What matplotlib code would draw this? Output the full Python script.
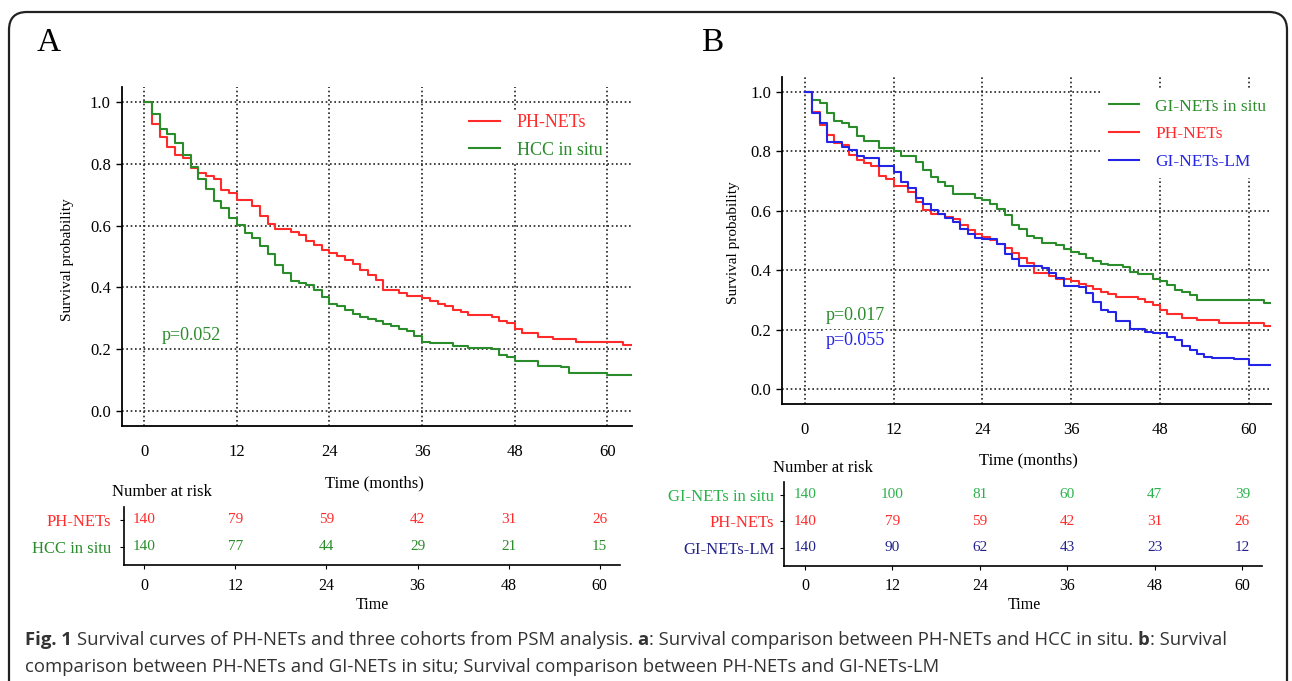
import matplotlib
matplotlib.use("Agg")
import matplotlib.pyplot as plt
from matplotlib.patches import FancyBboxPatch
from matplotlib.ticker import FormatStrFormatter

plt.rcParams["font.family"] = "Liberation Serif"

# --- Kaplan-Meier step data (month of drop, survival after drop) ---
ph_t = [0, 1, 2, 3, 4, 5, 6, 7, 8, 9, 10, 11, 12, 14, 15, 16, 17, 19, 20, 21, 22, 23,
        24, 25, 26, 27, 28, 29, 30, 31, 33, 34, 36, 37, 38, 39, 40, 41, 42, 45, 46, 47,
        48, 49, 51, 53, 56, 62]
ph_s = [1.0, 0.931, 0.889, 0.855, 0.828, 0.820, 0.787, 0.770, 0.761, 0.750, 0.716, 0.707,
        0.682, 0.664, 0.630, 0.604, 0.588, 0.579, 0.571, 0.552, 0.536, 0.521, 0.511, 0.502,
        0.489, 0.475, 0.457, 0.440, 0.424, 0.390, 0.381, 0.372, 0.365, 0.355, 0.347, 0.338,
        0.328, 0.320, 0.311, 0.303, 0.292, 0.283, 0.266, 0.251, 0.240, 0.231, 0.224, 0.213]

hcc_t = [0, 1, 2, 3, 4, 5, 6, 7, 8, 9, 10, 11, 12, 13, 14, 15, 16, 17, 18, 19, 20, 21,
         22, 23, 24, 25, 26, 27, 28, 29, 30, 31, 32, 33, 34, 35, 36, 37, 40, 42, 45, 46,
         47, 48, 51, 54, 55, 60]
hcc_s = [1.0, 0.962, 0.914, 0.898, 0.867, 0.829, 0.789, 0.751, 0.719, 0.681, 0.656, 0.626,
         0.602, 0.577, 0.560, 0.534, 0.507, 0.471, 0.446, 0.422, 0.415, 0.407, 0.392, 0.368,
         0.346, 0.338, 0.327, 0.314, 0.305, 0.297, 0.290, 0.282, 0.274, 0.265, 0.257, 0.243,
         0.224, 0.218, 0.211, 0.202, 0.199, 0.181, 0.173, 0.162, 0.146, 0.140, 0.123, 0.116]

gis_t = [0, 1, 2, 3, 4, 5, 6, 7, 8, 10, 12, 13, 15, 16, 17, 18, 19, 20, 23, 24, 25, 26,
         27, 28, 29, 30, 31, 32, 34, 35, 36, 37, 38, 39, 40, 41, 43, 44, 45, 47, 48, 49,
         50, 51, 52, 53, 62]
gis_s = [1.0, 0.971, 0.962, 0.928, 0.902, 0.894, 0.883, 0.850, 0.833, 0.810, 0.801, 0.785,
         0.763, 0.737, 0.715, 0.698, 0.683, 0.655, 0.644, 0.635, 0.622, 0.605, 0.586, 0.552,
         0.538, 0.515, 0.508, 0.493, 0.486, 0.470, 0.462, 0.453, 0.440, 0.432, 0.421, 0.416,
         0.410, 0.393, 0.387, 0.370, 0.362, 0.350, 0.335, 0.328, 0.317, 0.300, 0.290]

lm_t = [0, 1, 2, 3, 5, 6, 7, 8, 10, 12, 13, 14, 15, 16, 17, 18, 19, 20, 21, 22, 23, 24,
        26, 27, 28, 29, 32, 33, 34, 35, 37, 38, 39, 40, 41, 42, 44, 46, 47, 49, 50, 51,
        52, 53, 54, 55, 58, 60]
lm_s = [1.0, 0.928, 0.894, 0.830, 0.816, 0.805, 0.783, 0.776, 0.749, 0.730, 0.698, 0.676,
        0.642, 0.622, 0.603, 0.588, 0.577, 0.563, 0.538, 0.522, 0.508, 0.506, 0.489, 0.455,
        0.437, 0.414, 0.406, 0.389, 0.373, 0.347, 0.342, 0.324, 0.293, 0.267, 0.260, 0.228,
        0.201, 0.193, 0.188, 0.175, 0.166, 0.146, 0.130, 0.119, 0.108, 0.104, 0.100, 0.082]

# --- number at risk ---
risk_times = [0, 12, 24, 36, 48, 60]
risk_ph = [140, 79, 59, 42, 31, 26]
risk_hcc = [140, 77, 44, 29, 21, 15]
risk_gis = [140, 100, 81, 60, 47, 39]
risk_lm = [140, 90, 62, 43, 23, 12]

RED = "#ff2b2b"
GREEN = "#2a8c2a"
BLUE = "#2424e6"
GREEN_TAB = "#2bb24c"
NAVY_TAB = "#23238c"
GRID_LS = (0, (1, 1.6))

W, H = 1292, 681
fig = plt.figure(figsize=(W / 100, H / 100), dpi=100)


def km_panel(rect, xlim, curves, leg_anchor, leg_size, leg_space, leg_pad, ylab_xy, xlab_xy):
    ax = fig.add_axes(rect)
    for t, s, color, label in curves:
        ax.step(list(t) + [xlim[1]], list(s) + [s[-1]], where="post",
                color=color, lw=1.5, label=label)
    ax.set_xlim(*xlim)
    ax.set_ylim(-0.05, 1.05)
    ax.set_xticks(risk_times)
    ax.set_yticks([0.0, 0.2, 0.4, 0.6, 0.8, 1.0])
    ax.yaxis.set_major_formatter(FormatStrFormatter("%.1f"))
    ax.grid(True, color="#222222", linestyle=GRID_LS, linewidth=1.2)
    ax.set_axisbelow(True)
    for side in ("top", "right"):
        ax.spines[side].set_visible(False)
    for side in ("left", "bottom"):
        ax.spines[side].set_linewidth(1.3)
    ax.tick_params(axis="x", length=0, pad=13, labelsize=12)
    ax.tick_params(axis="y", length=4, width=1, pad=4, labelsize=12)
    ax.set_ylabel("Survival probability", fontsize=11, va="center")
    ax.yaxis.set_label_coords(*ylab_xy)
    ax.set_xlabel("Time (months)", fontsize=12, va="center")
    ax.xaxis.set_label_coords(*xlab_xy)
    leg = ax.legend(loc="upper left", bbox_to_anchor=leg_anchor, frameon=True,
                    facecolor="white", edgecolor="none", framealpha=1,
                    borderpad=leg_pad, borderaxespad=0, handlelength=1.75,
                    handletextpad=0.9, labelspacing=leg_space, fontsize=leg_size,
                    labelcolor="linecolor")
    leg.set_zorder(5)
    return ax


def risk_table(rect, xlim, ylim, rows, xlab_xy, ypad):
    ax = fig.add_axes(rect)
    ax.set_xlim(*xlim)
    ax.set_ylim(*ylim)
    for side in ("top", "right"):
        ax.spines[side].set_visible(False)
    for side in ("left", "bottom"):
        ax.spines[side].set_linewidth(1.2)
    ax.set_xticks(risk_times)
    ax.set_yticks([r[0] for r in rows])
    ax.set_yticklabels([r[1] for r in rows])
    for lab, r in zip(ax.get_yticklabels(), rows):
        lab.set_color(r[3])
    ax.tick_params(axis="x", length=3, pad=6, labelsize=11.5)
    ax.tick_params(axis="y", length=3, pad=ypad, labelsize=12)
    for y, _, counts, color in rows:
        for t, n in zip(risk_times, counts):
            ax.text(t, y, str(n), ha="center", va="center", color=color, fontsize=11)
    ax.set_xlabel("Time", fontsize=11.5, va="center")
    ax.xaxis.set_label_coords(*xlab_xy)
    return ax


# panel A
axA = km_panel([0.0944, 0.3744, 0.3947, 0.4978], (-2.9, 63.2),
               [(ph_t, ph_s, RED, "PH-NETs"), (hcc_t, hcc_s, GREEN, "HCC in situ")],
               (0.673, 0.931), 13, 0.58, 0.2, (-0.106, 0.49), (0.496, -0.168))
axA.text(2.3, 0.245, "p=0.052", color=GREEN, fontsize=13, va="center", ha="left")

# panel B
axB = km_panel([0.6053, 0.4068, 0.3785, 0.4802], (-3.07, 63.0),
               [(gis_t, gis_s, GREEN, "GI-NETs in situ"), (ph_t, ph_s, RED, "PH-NETs"),
                (lm_t, lm_s, BLUE, "GI-NETs-LM")],
               (0.651, 0.961), 12.5, 0.66, 0.5, (-0.100, 0.492), (0.503, -0.174))
bb = dict(facecolor="white", edgecolor="none", pad=1)
axB.text(2.8, 0.249, "p=0.017", color=GREEN, fontsize=13, va="center", ha="left", bbox=bb)
axB.text(2.8, 0.165, "p=0.055", color=BLUE, fontsize=13, va="center", ha="left", bbox=bb)

# number at risk tables
risk_table([0.0957, 0.1703, 0.3842, 0.0852], (-2.74, 62.7), (0.33, 2.48),
           [(2, "PH-NETs", risk_ph, RED), (1, "HCC in situ", risk_hcc, GREEN)],
           (0.50, -0.69), 6)
risk_table([0.6068, 0.1689, 0.3700, 0.1238], (-2.88, 62.7), (0.32, 3.5),
           [(3, "GI-NETs in situ", risk_gis, GREEN_TAB), (2, "PH-NETs", risk_ph, RED),
            (1, "GI-NETs-LM", risk_lm, NAVY_TAB)],
           (0.502, -0.463), 4)

fig.text(112 / W, 1 - 492 / H, "Number at risk", fontsize=12, va="center")
fig.text(773 / W, 1 - 468 / H, "Number at risk", fontsize=12, va="center")

fig.text(37 / W, 1 - 43 / H, "A", fontsize=24, va="center")
fig.text(701 / W, 1 - 43 / H, "B", fontsize=24, va="center")

# caption, pieces laid out one after another so bold parts sit inline
CAP = dict(fontsize=13.3, family="Open Sans", color="#333333", va="baseline")
renderer = fig.canvas.get_renderer()


def text_width(s, weight="normal"):
    t = fig.text(0, 0, s, weight=weight, **CAP)
    w = t.get_window_extent(renderer).width
    t.remove()
    return w


space_w = text_width("a a") - text_width("aa")


def rich_line(x_px, y_px, chunks):
    x = x_px
    for s, bold, gap in chunks:
        if gap:
            x += space_w
        t = fig.text(x / W, 1 - y_px / H, s, weight="bold" if bold else "normal", **CAP)
        x = t.get_window_extent(renderer).x1


rich_line(25, 645, [
    ("Fig. 1", True, False),
    ("Survival curves of PH-NETs and three cohorts from PSM analysis.", False, True),
    ("a", True, True),
    (": Survival comparison between PH-NETs and HCC in situ.", False, False),
    ("b", True, True),
    (": Survival", False, False),
])
rich_line(25, 672, [
    ("comparison between PH-NETs and GI-NETs in situ; Survival comparison between "
     "PH-NETs and GI-NETs-LM", False, False),
])

# rounded frame
frame = FancyBboxPatch((0.09, -0.3), 12.78, 6.69 + 0.3,
                       boxstyle="round,pad=0,rounding_size=0.18",
                       transform=fig.dpi_scale_trans, facecolor="none",
                       edgecolor="#222222", linewidth=1.6, zorder=10)
fig.patches.append(frame)

fig.savefig("out.png", dpi=100)
